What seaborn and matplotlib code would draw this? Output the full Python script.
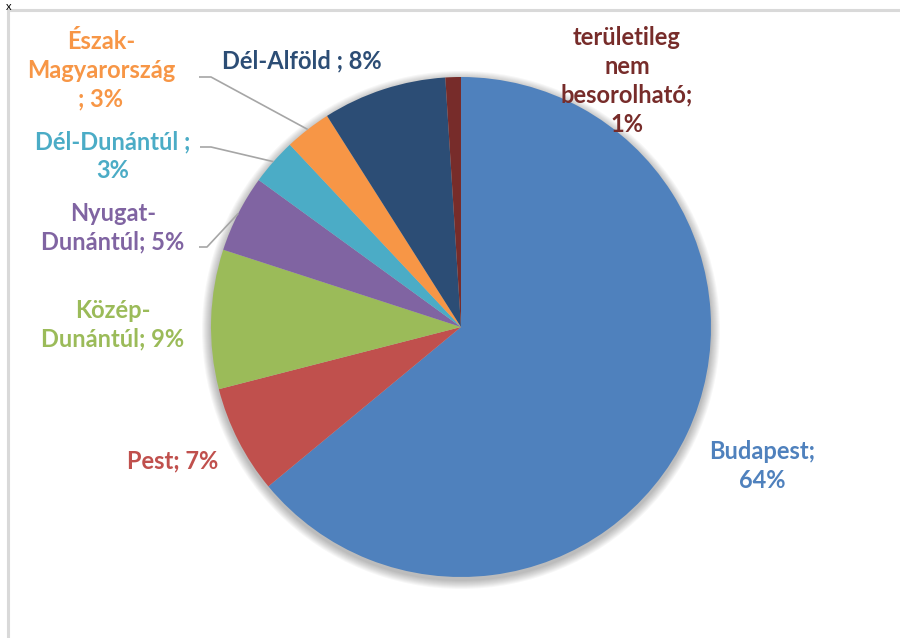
import numpy as np
import matplotlib
matplotlib.use("Agg")
import matplotlib.pyplot as plt
from matplotlib.patches import Circle
import seaborn as sns

# Regional distribution (share, %), clockwise from the top
regions = ["Budapest", "Pest", "Közép-Dunántúl", "Nyugat-Dunántúl",
           "Dél-Dunántúl", "Észak-Magyarország", "Dél-Alföld",
           "területileg nem besorolható"]
shares = [64, 7, 9, 5, 3, 3, 8, 1]
label_texts = ["Budapest;\n{}%", "Pest; {}%", "Közép-\nDunántúl; {}%",
               "Nyugat-\nDunántúl; {}%", "Dél-Dunántúl ;\n{}%",
               "Észak-\nMagyarország\n; {}%", "Dél-Alföld ; {}%",
               "területileg\nnem\nbesorolható;\n{}%"]
slice_colors = ["#4F81BD", "#C0504D", "#9BBB59", "#8064A2",
                "#4BACC6", "#F79646", "#2C4D75", "#772C2A"]
text_colors = ["#4F81BD", "#C0504D", "#9BBB59", "#8064A2",
               "#4BACC6", "#F79646", "#2C4D75", "#772C2A"]

sns.set_theme(style="white")
plt.rcParams["font.family"] = ["Lato", "DejaVu Sans"]

W, H = 900, 638
fig = plt.figure(figsize=(W / 100, H / 100), dpi=100)
ax = fig.add_axes([0, 0, 1, 1])
ax.set_xlim(0, W)
ax.set_ylim(0, H)
ax.set_aspect("equal")
ax.axis("off")


def py(y):
    """Convert a top-down pixel row into the axes' y coordinate."""
    return H - y


cx, cy, R = 461, py(327), 250

# soft drop shadow below the pie
for k in range(9, 0, -1):
    ax.add_patch(Circle((cx, cy - 3), R + k, color="#000000",
                        alpha=0.03, lw=0, zorder=1))

palette = sns.color_palette(slice_colors)
wedges, _ = ax.pie(shares, colors=palette, startangle=90, counterclock=False,
                   center=(cx, cy), radius=R, frame=True,
                   wedgeprops=dict(linewidth=0, zorder=2))
ax.set_xlim(0, W)
ax.set_ylim(0, H)
ax.axis("off")

# label anchor positions (pixel coords, top-down) and leader-line elbows
label_pos = [(762, 466), (173, 461), (113, 325), (113, 228),
             (113, 156), (101, 70), (302, 61), (627, 81)]
leaders = {3: [(199, 247), (207, 247)],
           4: [(200, 147), (211, 147)],
           5: [(199, 77), (211, 77)]}

for i, (txt, share) in enumerate(zip(label_texts, shares)):
    x, y = label_pos[i]
    ax.text(x, py(y), txt.format(share), ha="center", va="center",
            fontsize=17, fontweight="bold", color=text_colors[i],
            linespacing=1.3, zorder=5)

for i, pts in leaders.items():
    w = wedges[i]
    mid = np.deg2rad((w.theta1 + w.theta2) / 2)
    ex, ey = cx + R * np.cos(mid), cy + R * np.sin(mid)
    xs = [p[0] for p in pts] + [ex]
    ys = [py(p[1]) for p in pts] + [ey]
    ax.plot(xs, ys, color="#A6A6A6", lw=1.2, zorder=4,
            solid_capstyle="butt")

# chart area border (left and top edges)
ax.plot([8, 8, W], [0, py(10), py(10)], color="#D9D9D9", lw=2.2, zorder=3,
        solid_joinstyle="miter")
ax.text(9, py(1), "x", ha="center", va="top", fontsize=8,
        color="#000000", zorder=6)

fig.savefig("out.png", dpi=100)
